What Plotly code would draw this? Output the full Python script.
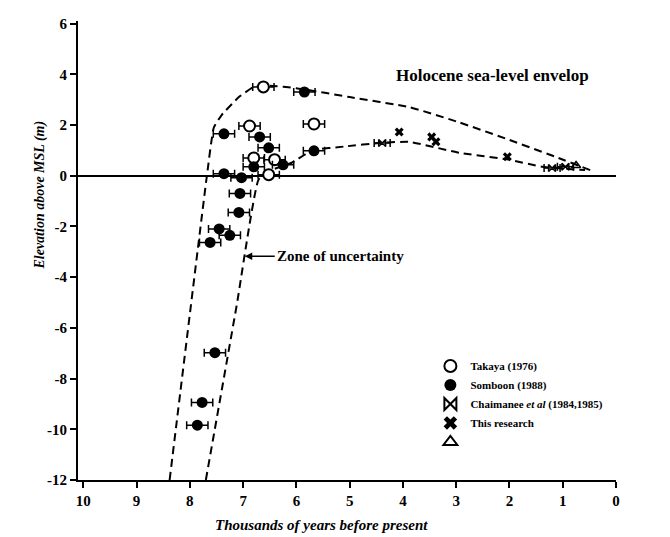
import plotly.graph_objects as go

# ---- data (kyr BP, elevation m) ----
takaya_x = [6.62, 6.88, 5.67, 6.80, 6.41, 6.52]
takaya_y = [3.50, 1.96, 2.04, 0.70, 0.63, 0.04]

somboon_x = [5.85, 7.36, 6.69, 6.52, 6.80, 6.25, 5.67, 7.36, 7.03, 7.06, 7.08, 7.45, 7.25, 7.62, 7.53, 7.77, 7.86]
somboon_y = [3.30, 1.65, 1.53, 1.10, 0.35, 0.43, 0.98, 0.08, -0.08, -0.70, -1.45, -2.10, -2.35, -2.63, -6.98, -8.94, -9.84]

chaim_x = [4.39, 1.20, 0.95]
chaim_y = [1.29, 0.30, 0.35]

research_x = [4.07, 3.46, 3.38, 2.04]
research_y = [1.72, 1.53, 1.34, 0.75]

tri_x = [0.75]
tri_y = [0.40]

upper_x = [8.38, 7.68, 7.55, 7.40, 7.08, 6.80, 6.50, 6.00, 5.00, 3.87, 2.94, 2.00, 1.08, 0.46]
upper_y = [-12.0, 0.0, 1.9, 2.4, 3.1, 3.5, 3.55, 3.45, 3.1, 2.7, 2.1, 1.41, 0.70, 0.20]

lower_x = [7.70, 7.12, 6.71, 6.50, 6.10, 5.70, 5.10, 4.40, 3.87, 2.94, 2.00, 1.39, 0.58]
lower_y = [-12.0, -5.1, -0.15, 0.20, 0.50, 1.00, 1.15, 1.30, 1.33, 0.90, 0.63, 0.35, 0.22]

x_ticks = [10, 9, 8, 7, 6, 5, 4, 3, 2, 1, 0]
y_ticks = [6, 4, 2, 0, -2, -4, -6, -8, -10, -12]

FONT = "Liberation Serif"
err = 0.2

fig = go.Figure()

dash = "8px,5px"
fig.add_trace(go.Scatter(x=upper_x, y=upper_y, mode="lines", showlegend=False,
                         line=dict(color="black", width=2, dash=dash, shape="spline", smoothing=0.4)))
fig.add_trace(go.Scatter(x=lower_x, y=lower_y, mode="lines", showlegend=False,
                         line=dict(color="black", width=2, dash=dash, shape="spline", smoothing=0.4)))

ebar = dict(type="constant", value=err, color="black", thickness=1.5, width=4)

fig.add_trace(go.Scatter(x=takaya_x, y=takaya_y, mode="markers", name="<b>Takaya (1976)</b>",
                         marker=dict(symbol="circle", size=11, color="white", line=dict(color="black", width=2)),
                         error_x=ebar))
fig.add_trace(go.Scatter(x=somboon_x, y=somboon_y, mode="markers", name="<b>Somboon (1988)</b>",
                         marker=dict(symbol="circle", size=11, color="black"),
                         error_x=ebar))
fig.add_trace(go.Scatter(x=chaim_x, y=chaim_y, mode="markers",
                         name="<b>Chaimanee <i>et al</i> (1984,1985)</b>",
                         marker=dict(symbol="bowtie-open", size=7, color="black", line=dict(width=1.5)),
                         error_x=dict(type="constant", value=0.15, color="black", thickness=1.5, width=4)))
fig.add_trace(go.Scatter(x=research_x, y=research_y, mode="markers", name="<b>This research</b>",
                         marker=dict(symbol="x", size=8, color="black", line=dict(width=0))))
fig.add_trace(go.Scatter(x=tri_x, y=tri_y, mode="markers", name=" ",
                         marker=dict(symbol="triangle-up-open", size=8, color="black", line=dict(width=1.5))))

fig.add_annotation(x=2.32, y=3.96, text="<b>Holocene sea-level envelop</b>", showarrow=False,
                   font=dict(family=FONT, size=17, color="black"))
fig.add_annotation(x=6.97, y=-3.18, text="<b>Zone of uncertainty</b>", showarrow=True,
                   ax=30, ay=0, xanchor="left", arrowhead=2, arrowsize=1, arrowwidth=1.5,
                   arrowcolor="black", font=dict(family=FONT, size=15, color="black"))

fig.add_annotation(xref="paper", yref="paper", x=0.452, y=-0.12,
                   text="<b><i>Thousands of years before present</i></b>", showarrow=False,
                   font=dict(family=FONT, size=15, color="black"))
fig.add_annotation(xref="paper", yref="paper", x=-0.089, y=0.62, textangle=-90,
                   text="<b><i>Elevation above MSL (m)</i></b>", showarrow=False,
                   font=dict(family=FONT, size=14, color="black"))

fig.update_layout(
    width=670, height=537,
    margin=dict(l=70, r=62, t=13, b=65, autoexpand=False),
    paper_bgcolor="white", plot_bgcolor="white",
    font=dict(family=FONT, color="black"),
    legend=dict(x=0.655, y=0.28, xanchor="left", yanchor="top",
                font=dict(family=FONT, size=11, color="black"),
                bgcolor="rgba(0,0,0,0)", tracegroupgap=0, itemsizing="constant"),
    xaxis=dict(range=[10.1, 0], tickvals=x_ticks, ticktext=[f"<b>{v}</b>" for v in x_ticks],
               showline=True, linecolor="black", linewidth=2, ticks="outside", ticklen=6,
               tickwidth=2, tickcolor="black", showgrid=False, zeroline=False, automargin=False,
               tickfont=dict(family=FONT, size=15, color="black")),
    yaxis=dict(range=[-12, 6.1], tickvals=y_ticks, ticktext=[f"<b>{v}</b>" for v in y_ticks],
               showline=True, linecolor="black", linewidth=2, ticks="outside", ticklen=6,
               tickwidth=2, tickcolor="black", showgrid=False, automargin=False,
               zeroline=True, zerolinecolor="black", zerolinewidth=2,
               tickfont=dict(family=FONT, size=15, color="black")),
)

fig.write_html("out.html")
